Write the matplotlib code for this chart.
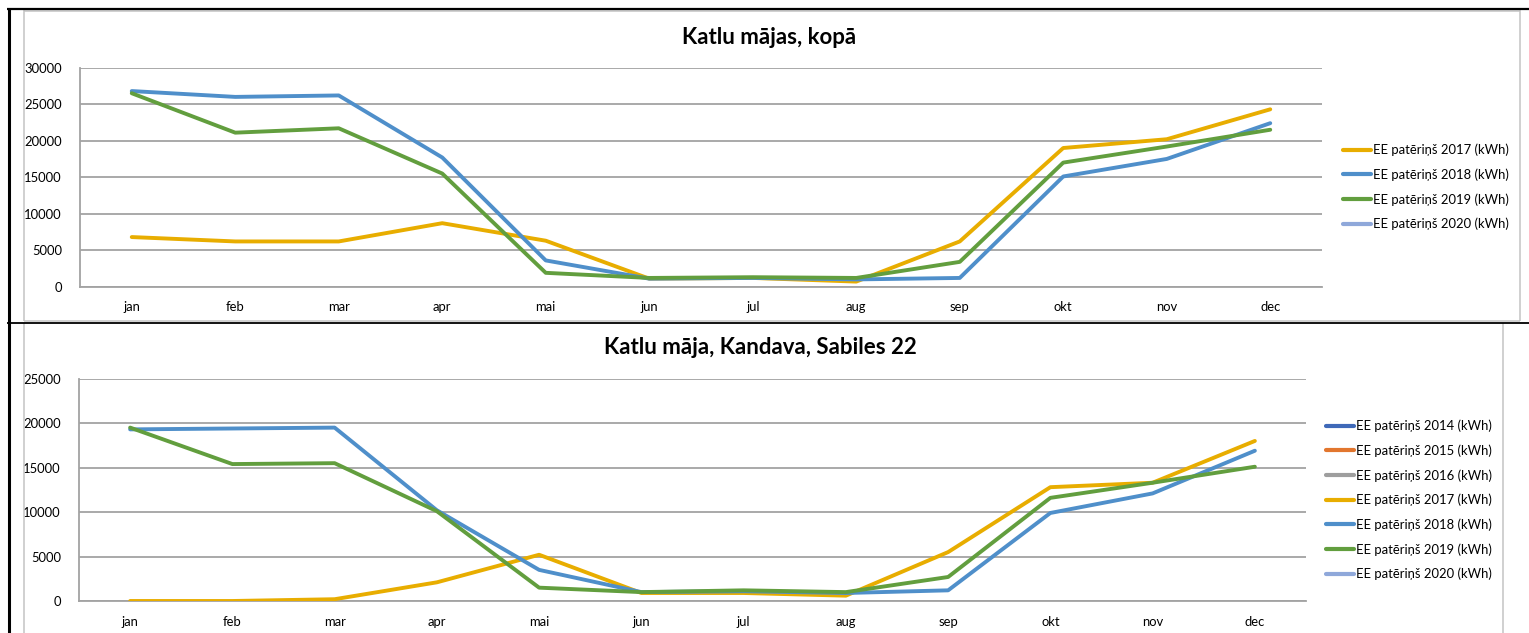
import matplotlib
matplotlib.use("Agg")
import matplotlib.pyplot as plt
from matplotlib.lines import Line2D
from matplotlib.ticker import FixedLocator

plt.rcParams['font.family'] = ['Lato', 'DejaVu Sans']

W, H = 1529, 633

months = ["jan", "feb", "mar", "apr", "mai", "jun", "jul", "aug", "sep", "okt", "nov", "dec"]

# Katlu mājas, kopā (kWh)
total_2017 = [6800, 6200, 6200, 8700, 6300, 1100, 1200, 700, 6200, 19000, 20200, 24300]
total_2018 = [26800, 26000, 26200, 17700, 3600, 1100, 1200, 1000, 1200, 15100, 17500, 22400]
total_2019 = [26500, 21100, 21700, 15500, 1900, 1200, 1300, 1200, 3400, 17000, 19200, 21500]
total_2020 = []

# Katlu māja, Kandava, Sabiles 22 (kWh)
sab_2014 = []
sab_2015 = []
sab_2016 = []
sab_2017 = [0, 0, 200, 2100, 5200, 900, 900, 600, 5500, 12800, 13300, 18000]
sab_2018 = [19300, 19400, 19500, 10200, 3500, 1000, 1100, 900, 1200, 9900, 12100, 16900]
sab_2019 = [19500, 15400, 15500, 10100, 1500, 1000, 1200, 1000, 2700, 11600, 13300, 15100]
sab_2020 = []

top_ticks = [0, 5000, 10000, 15000, 20000, 25000, 30000]
bottom_ticks = [0, 5000, 10000, 15000, 20000, 25000]

colors = {
    "2014": "#3F69B8",
    "2015": "#E2762E",
    "2016": "#9E9E9E",
    "2017": "#E8AD00",
    "2018": "#4F8FCA",
    "2019": "#629E3E",
    "2020": "#8FA8DA",
}

GRID = "#A3A3A3"
FRAME = "#C4C4C4"
FS = 9.4

fig = plt.figure(figsize=(W / 100, H / 100), dpi=100)


def fx(px):
    return px / W


def fy(py):
    return 1 - py / H


def box(left, top, right, bottom):
    return [fx(left), fy(bottom), fx(right) - fx(left), fy(top) - fy(bottom)]


def hline(y, x0, x1, color, lw):
    fig.add_artist(Line2D([fx(x0), fx(x1)], [fy(y), fy(y)], color=color, lw=lw,
                          transform=fig.transFigure, solid_capstyle='butt'))


def vline(x, y0, y1, color, lw):
    fig.add_artist(Line2D([fx(x), fx(x)], [fy(y0), fy(y1)], color=color, lw=lw,
                          transform=fig.transFigure, solid_capstyle='butt'))


def draw_chart(rect, title, title_xy, series, ticks, ymax, legend_anchor):
    ax = fig.add_axes(rect)
    x = list(range(len(months)))
    for label, vals, color in series:
        ax.plot(x[:len(vals)], vals, color=color, lw=2.8, label=label,
                solid_joinstyle='round', solid_capstyle='round', zorder=3)
    ax.set_xlim(-0.5, len(months) - 0.5)
    ax.set_ylim(0, ymax)
    ax.yaxis.set_major_locator(FixedLocator(ticks))
    ax.set_xticks(x)
    ax.set_xticklabels(months)
    ax.set_yticklabels([str(t) for t in ticks])
    ax.tick_params(axis='both', length=0, labelsize=FS, colors='black')
    ax.tick_params(axis='x', pad=10.5)
    ax.tick_params(axis='y', pad=13)
    ax.grid(axis='y', color=GRID, lw=1.3, zorder=1)
    ax.set_axisbelow(True)
    for s in ('top', 'right'):
        ax.spines[s].set_visible(False)
    ax.spines['bottom'].set_color(GRID)
    ax.spines['bottom'].set_linewidth(1.3)
    ax.spines['left'].set_color(GRID)
    ax.spines['left'].set_linewidth(1.3)
    fig.text(fx(title_xy[0]), fy(title_xy[1]), title, ha='center', va='center',
             fontsize=16, fontweight='bold')
    leg = ax.legend(loc='center left', bbox_to_anchor=(fx(legend_anchor[0]), fy(legend_anchor[1])),
                    bbox_transform=fig.transFigure, frameon=False, fontsize=FS,
                    handlelength=2.15, handletextpad=0.15, labelspacing=0.93,
                    borderpad=0, borderaxespad=0)
    for ln in leg.get_lines():
        ln.set_linewidth(3.0)
    return ax


# upper chart
draw_chart(box(80, 67.7, 1322, 286.7), "Katlu mājas, kopā", (769, 37),
           [("EE patēriņš 2017 (kWh)", total_2017, colors["2017"]),
            ("EE patēriņš 2018 (kWh)", total_2018, colors["2018"]),
            ("EE patēriņš 2019 (kWh)", total_2019, colors["2019"]),
            ("EE patēriņš 2020 (kWh)", total_2020, colors["2020"])],
           top_ticks, 30000, (1343, 187))

# lower chart
draw_chart(box(79, 378.7, 1306, 601), "Katlu māja, Kandava, Sabiles 22", (760, 347),
           [("EE patēriņš 2014 (kWh)", sab_2014, colors["2014"]),
            ("EE patēriņš 2015 (kWh)", sab_2015, colors["2015"]),
            ("EE patēriņš 2016 (kWh)", sab_2016, colors["2016"]),
            ("EE patēriņš 2017 (kWh)", sab_2017, colors["2017"]),
            ("EE patēriņš 2018 (kWh)", sab_2018, colors["2018"]),
            ("EE patēriņš 2019 (kWh)", sab_2019, colors["2019"]),
            ("EE patēriņš 2020 (kWh)", sab_2020, colors["2020"])],
           bottom_ticks, 25000, (1326, 500))

# chart frames
hline(10.5, 24, 1520, FRAME, 1.1)
hline(320.5, 24, 1520, FRAME, 1.1)
vline(24, 10, 321, FRAME, 1.1)
vline(1520, 10, 321, FRAME, 1.1)
vline(24, 323, 633, FRAME, 1.1)
vline(1503, 323, 633, FRAME, 1.1)

# outer borders
hline(9, 7, 1529, "black", 1.6)
hline(323, 7, 1529, "black", 1.3)
vline(8.5, 8, 633, "black", 2.2)

fig.savefig("out.png", dpi=100)
